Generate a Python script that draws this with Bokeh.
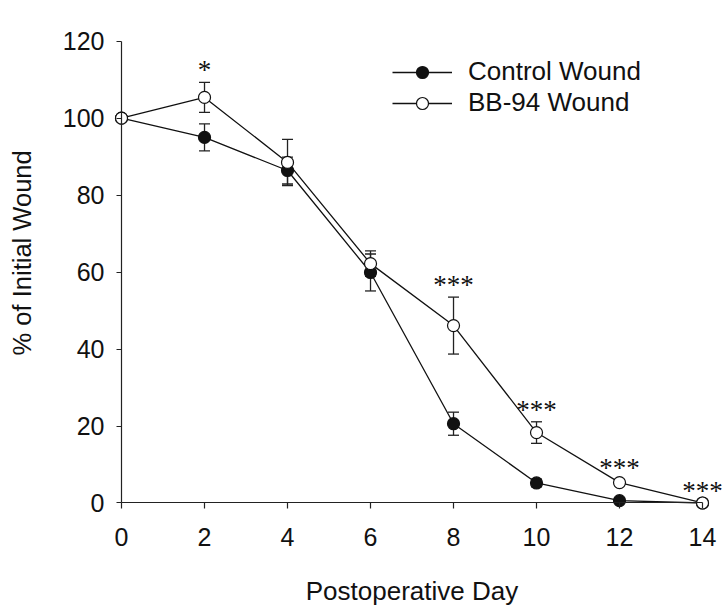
import math
from bokeh.plotting import figure
from bokeh.models import (ColumnDataSource, Legend, LegendItem, Label, LabelSet,
                          FixedTicker, Range1d)
from bokeh.embed import file_html
from bokeh.resources import INLINE

# ---- data ----
days = [0, 2, 4, 6, 8, 10, 12, 14]
control = [100, 95.0, 86.4, 59.9, 20.6, 5.2, 0.6, 0]
control_err = [0, 3.5, 3.5, 4.8, 3.0, 1.0, 0.5, 0]
bb94 = [100, 105.4, 88.5, 62.2, 46.1, 18.3, 5.3, 0]
bb94_err = [0, 3.9, 6.0, 3.3, 7.4, 2.8, 0.8, 0]
signif = ["", "*", "", "", "***", "***", "***", "***"]
x_ticks = [0, 2, 4, 6, 8, 10, 12, 14]
y_ticks = [0, 20, 40, 60, 80, 100, 120]
series_names = ["Control Wound", "BB-94 Wound"]
x_title = "Postoperative Day"
y_title = "% of Initial Wound"

FONT = "Liberation Sans"

# the frame fills the whole canvas; axes are pinned at x=0 / y=0
p = figure(width=727, height=610, output_backend="svg", toolbar_location=None,
           x_range=Range1d(-2.916, 14.602), y_range=Range1d(-27.94, 130.58),
           min_border_left=0, min_border_right=0, min_border_top=0,
           min_border_bottom=0)
p.outline_line_color = None
p.xgrid.visible = False
p.ygrid.visible = False
p.background_fill_color = "white"
p.border_fill_color = "white"

for ax in (p.xaxis[0], p.yaxis[0]):
    ax.fixed_location = 0
    ax.minor_tick_line_color = None
    ax.major_tick_in = 0
    ax.axis_line_color = "#222222"
    ax.major_tick_line_color = "#222222"
    ax.axis_line_width = 1.2
    ax.major_tick_line_width = 1.2
    ax.major_label_text_font = FONT
    ax.major_label_text_font_size = "25px"
    ax.major_label_text_color = "#111111"

p.xaxis.bounds = (x_ticks[0], x_ticks[-1])
p.yaxis.bounds = (y_ticks[0], y_ticks[-1])
p.xaxis.ticker = FixedTicker(ticks=x_ticks)
p.yaxis.ticker = FixedTicker(ticks=y_ticks)
p.xaxis.major_tick_out = 6
p.yaxis.major_tick_out = 5
p.xaxis.major_label_standoff = 19
p.yaxis.major_label_standoff = 12
p.xaxis.axis_label = x_title
p.xaxis.axis_label_text_font = FONT
p.xaxis.axis_label_text_font_size = "26px"
p.xaxis.axis_label_text_font_style = "normal"
p.xaxis.axis_label_text_color = "#111111"
p.xaxis.axis_label_standoff = 27

# y title as a label so it sits where the reference has it
p.add_layout(Label(x=-2.386, y=65, angle=math.pi / 2, text=y_title,
                   text_align="center", text_baseline="middle",
                   text_font=FONT, text_font_size="25.5px", text_color="#111111"))

c_src = ColumnDataSource(dict(x=days, y=control,
                              lo=[v - e for v, e in zip(control, control_err)],
                              hi=[v + e for v, e in zip(control, control_err)]))
b_src = ColumnDataSource(dict(x=days, y=bb94,
                              lo=[v - e for v, e in zip(bb94, bb94_err)],
                              hi=[v + e for v, e in zip(bb94, bb94_err)]))

# error bars
for src in (c_src, b_src):
    p.segment(x0="x", y0="lo", x1="x", y1="hi", source=src,
              line_color="#222222", line_width=1.3)
    p.scatter(x="x", y="lo", source=src, marker="dash", size=11,
              line_color="#222222", line_width=1.3)
    p.scatter(x="x", y="hi", source=src, marker="dash", size=11,
              line_color="#222222", line_width=1.3)

cl = p.line(x="x", y="y", source=c_src, line_color="#111111", line_width=1.3)
bl = p.line(x="x", y="y", source=b_src, line_color="#111111", line_width=1.3)
cm = p.scatter(x="x", y="y", source=c_src, marker="circle", size=12,
               fill_color="#111111", line_color="#111111", line_width=1.2)
bm = p.scatter(x="x", y="y", source=b_src, marker="circle", size=12,
               fill_color="white", line_color="#111111", line_width=1.2)

# significance markers above the BB-94 error bars
sig_idx = [i for i, s in enumerate(signif) if s]
s_src = ColumnDataSource(dict(x=[days[i] for i in sig_idx],
                              y=[bb94[i] + bb94_err[i] for i in sig_idx],
                              t=[signif[i] for i in sig_idx]))
p.add_layout(LabelSet(x="x", y="y", text="t", source=s_src,
                      text_align="center", text_baseline="bottom", y_offset=-3,
                      text_font=FONT, text_font_size="27px", text_color="#111111"))

legend = Legend(items=[LegendItem(label=series_names[0], renderers=[cl, cm]),
                       LegendItem(label=series_names[1], renderers=[bl, bm])],
                location=(392, 492), glyph_width=60, glyph_height=30,
                label_height=30, label_standoff=16, padding=0, margin=0,
                spacing=0, border_line_alpha=0, background_fill_alpha=0,
                label_text_font=FONT, label_text_font_size="26px",
                label_text_color="#111111")
p.add_layout(legend)

open("out.html", "w").write(file_html(p, INLINE))
